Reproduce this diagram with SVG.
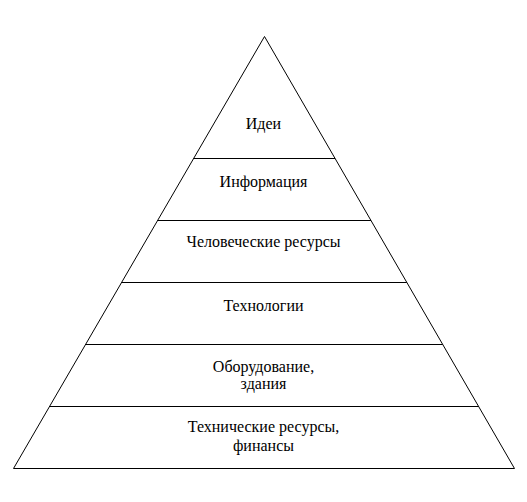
<svg xmlns="http://www.w3.org/2000/svg" width="527" height="502" viewBox="0 0 527 502">
<style>
.ln{stroke:#000;stroke-width:1;fill:none}
.t{font-family:"Liberation Serif","Times New Roman",serif;font-size:16px;fill:#000;text-anchor:middle}
</style>
<rect width="527" height="502" fill="#fff"/>
<g id="pyramid">
<polygon class="ln" points="264.5,36.5 13.5,468.5 514.5,468.5"/>
</g>
<g id="connectors">
<line class="ln" x1="193.6" y1="158.5" x2="335.1" y2="158.5"/>
<line class="ln" x1="157.6" y1="220.5" x2="371" y2="220.5"/>
<line class="ln" x1="121.6" y1="282.5" x2="406.9" y2="282.5"/>
<line class="ln" x1="85.5" y1="344.5" x2="442.7" y2="344.5"/>
<line class="ln" x1="49.5" y1="406.5" x2="478.6" y2="406.5"/>
</g>
<g id="level1"><text class="t" x="263.5" y="129">Идеи</text></g>
<g id="level2"><text class="t" x="263.5" y="186.5">Информация</text></g>
<g id="level3"><text class="t" x="263.5" y="246.5">Человеческие ресурсы</text></g>
<g id="level4"><text class="t" x="263.5" y="311">Технологии</text></g>
<g id="level5"><text class="t" x="263.5" y="372">Оборудование,</text><text class="t" x="263.5" y="389">здания</text></g>
<g id="level6"><text class="t" x="263.5" y="432">Технические ресурсы,</text><text class="t" x="263.5" y="451">финансы</text></g>
</svg>
